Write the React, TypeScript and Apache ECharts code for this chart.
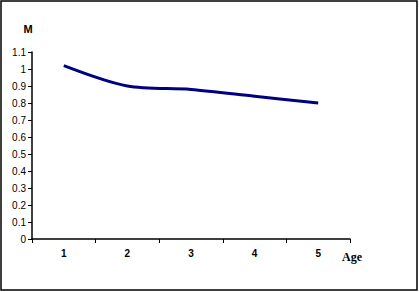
import React, { useEffect, useRef } from "react";
import * as echarts from "echarts";

const ages = ["1", "2", "3", "4", "5"];
const mValues = [1.02, 0.9, 0.88, 0.84, 0.8];

export default function App() {
  const ref = useRef<HTMLDivElement>(null);
  useEffect(() => {
    if (!ref.current) return;
    const chart = echarts.init(ref.current, undefined, { renderer: "svg" });
    chart.setOption({
      animation: false,
      backgroundColor: "#ffffff",
      grid: { left: 32, right: 69, top: 52, bottom: 53, containLabel: false },
      graphic: [
        {
          type: "rect",
          shape: { x: 1, y: 1, width: 416, height: 289 },
          style: { fill: "none", stroke: "#000000", lineWidth: 1.5 },
          silent: true,
        },
        {
          type: "text",
          x: 352,
          y: 257,
          style: {
            text: "Age",
            fontFamily: "Liberation Serif",
            fontWeight: "bold",
            fontSize: 12,
            fill: "#000",
            align: "center",
            verticalAlign: "middle",
          },
          silent: true,
        },
      ],
      xAxis: {
        type: "category",
        data: ages,
        boundaryGap: true,
        axisLine: { lineStyle: { color: "#000", width: 1.5 } },
        axisTick: { show: true, length: 4, alignWithLabel: false, lineStyle: { color: "#000" } },
        axisLabel: {
          fontFamily: "Liberation Sans",
          fontSize: 10,
          fontWeight: "bold",
          color: "#000",
          margin: 9,
        },
        splitLine: { show: false },
      },
      yAxis: {
        type: "value",
        min: 0,
        max: 1.1,
        interval: 0.1,
        name: "M",
        nameLocation: "end",
        nameGap: 18,
        nameTextStyle: {
          fontFamily: "Liberation Sans",
          fontWeight: "bold",
          fontSize: 11,
          color: "#000",
          padding: [0, 8, 0, 0],
        },
        axisLine: { show: true, lineStyle: { color: "#000", width: 1.5 } },
        axisTick: { show: true, length: 4, lineStyle: { color: "#000" } },
        axisLabel: {
          fontFamily: "Liberation Sans",
          fontSize: 10,
          color: "#000",
          margin: 6,
          formatter: (v: number) => String(Math.round(v * 10) / 10),
        },
        splitLine: { show: false },
      },
      series: [
        {
          type: "line",
          data: mValues,
          smooth: 0.3,
          symbol: "none",
          lineStyle: { color: "#000080", width: 3 },
          itemStyle: { color: "#000080" },
        },
      ],
    });
    return () => chart.dispose();
  }, []);
  return (
    <div
      ref={ref}
      style={{ position: "fixed", left: 0, top: 0, width: 419, height: 292 }}
    />
  );
}
